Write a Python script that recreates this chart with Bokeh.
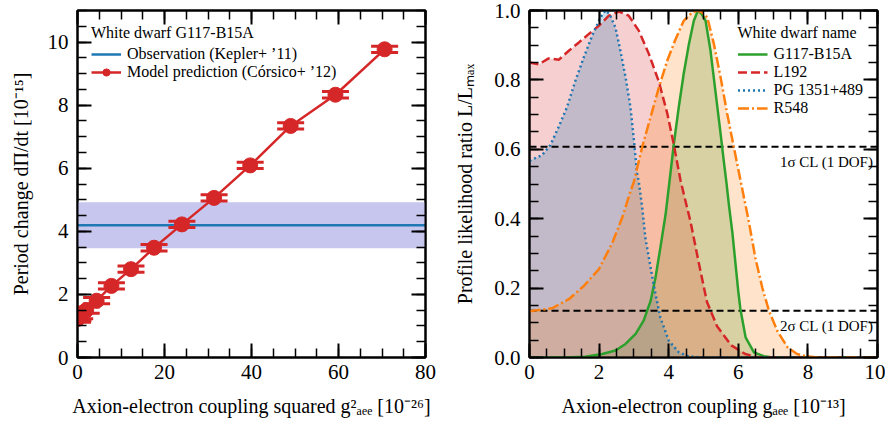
from bokeh.plotting import figure
from bokeh.models import (Range1d, LinearAxis, SingleIntervalTicker, Legend, LegendItem,
                          Label, BoxAnnotation, PrintfTickFormatter)
from bokeh.layouts import row
from bokeh.embed import file_html
from bokeh.resources import INLINE

FONT = "Liberation Serif"

# ---------------- Left panel data ----------------
g2_model = [0.0, 0.1, 0.5, 2.0, 4.4, 7.8, 12.3, 17.6, 24.0, 31.4, 39.7, 49.0, 59.3, 70.6]
pdot_model = [1.22, 1.27, 1.33, 1.50, 1.80, 2.27, 2.80, 3.48, 4.22, 5.06, 6.09, 7.34, 8.33, 9.77]
pdot_err = [0.10, 0.10, 0.10, 0.10, 0.10, 0.10, 0.10, 0.10, 0.10, 0.10, 0.10, 0.10, 0.10, 0.10]
obs_value = 4.19
obs_err = 0.73
left_xrange = (0, 80)
left_yrange = (0, 11)

# ---------------- Right panel data ----------------
g_g117 = [0, 1.0, 1.6, 2.09, 2.47, 2.76, 3.05, 3.28, 3.48, 3.62, 3.76, 3.91, 4.02, 4.15, 4.29,
          4.43, 4.58, 4.72, 4.84, 4.95, 5.06, 5.20, 5.34, 5.49, 5.58, 5.66, 5.73, 5.83, 5.92,
          6.00, 6.06, 6.21, 6.45, 6.73, 7.0, 10]
L_g117 = [0, 0, 0.002, 0.01, 0.02, 0.039, 0.068, 0.106, 0.163, 0.23, 0.316, 0.412, 0.505, 0.617,
          0.722, 0.817, 0.903, 0.97, 1.0, 0.99, 0.97, 0.885, 0.77, 0.646, 0.569, 0.503, 0.44,
          0.36, 0.27, 0.19, 0.14, 0.058, 0.015, 0.004, 0, 0]

g_l192 = [0, 0.27, 0.55, 0.84, 1.13, 1.42, 1.70, 1.99, 2.28, 2.57, 2.85, 3.14, 3.43, 3.72, 3.96,
          4.15, 4.34, 4.63, 4.87, 5.10, 5.39, 5.80, 6.20, 6.60, 10]
L_l192 = [0.85, 0.845, 0.862, 0.858, 0.884, 0.908, 0.932, 0.956, 0.985, 0.997, 0.985, 0.942,
          0.875, 0.794, 0.703, 0.612, 0.51, 0.39, 0.27, 0.16, 0.09, 0.035, 0.01, 0.0, 0.0]

g_pg = [0, 0.36, 0.60, 0.84, 1.08, 1.32, 1.56, 1.80, 2.04, 2.18, 2.30, 2.47, 2.61, 2.76, 2.90,
        3.00, 3.09, 3.14, 3.24, 3.33, 3.48, 3.62, 3.76, 4.00, 4.29, 4.58, 5.0, 10]
L_pg = [0.567, 0.583, 0.612, 0.665, 0.722, 0.798, 0.865, 0.927, 0.98, 1.0, 0.99, 0.951, 0.885,
        0.808, 0.722, 0.627, 0.531, 0.507, 0.431, 0.345, 0.259, 0.183, 0.115, 0.049, 0.015,
        0.003, 0, 0]

g_r548 = [0, 0.65, 1.13, 1.56, 1.99, 2.38, 2.66, 2.90, 3.0, 3.24, 3.48, 3.72, 3.96, 4.20, 4.43,
          4.67, 4.82, 4.95, 5.11, 5.30, 5.49, 5.68, 5.87, 6.06, 6.30, 6.49, 6.69, 6.88, 7.12,
          7.41, 7.69, 7.98, 8.3, 10]
L_r548 = [0.133, 0.142, 0.168, 0.206, 0.254, 0.33, 0.402, 0.478, 0.507, 0.607, 0.693, 0.779,
          0.856, 0.918, 0.97, 0.994, 1.0, 0.995, 0.98, 0.903, 0.808, 0.703, 0.607, 0.512, 0.393,
          0.287, 0.201, 0.135, 0.077, 0.03, 0.01, 0.003, 0, 0]

cl_levels = [0.607, 0.135]
cl_texts = ["1σ CL (1 DOF)", "2σ CL (1 DOF)"]
right_xrange = (0, 10)
right_yrange = (0, 1.0)

RED = "#d62728"
BLUE = "#1f77b4"
GREEN = "#2ca02c"
ORANGE = "#ff7f0e"


def style_axis(ax, labels=True):
    ax.axis_line_width = 2
    ax.axis_line_color = "black"
    ax.major_tick_in = 14
    ax.major_tick_out = 0
    ax.minor_tick_in = 9
    ax.minor_tick_out = 0
    ax.major_tick_line_width = 2
    ax.minor_tick_line_width = 1.5
    ax.major_tick_line_color = "black"
    ax.minor_tick_line_color = "black"
    ax.major_label_text_font = FONT
    ax.major_label_text_font_size = "21px"
    ax.major_label_text_color = "black"
    ax.axis_label_text_font = FONT
    ax.axis_label_text_font_size = "20px"
    ax.axis_label_text_font_style = "normal"
    ax.axis_label_text_color = "black"
    if not labels:
        ax.major_label_text_font_size = "1px"
        ax.major_label_text_color = None
        ax.major_label_standoff = 0


def make_fig(xr, yr, xint, yint, left_border, right_border, ylabel_standoff):
    p = figure(frame_width=348, frame_height=347, x_range=Range1d(*xr), y_range=Range1d(*yr),
               output_backend="svg", toolbar_location=None,
               min_border_left=left_border, min_border_right=right_border,
               min_border_top=10, min_border_bottom=67)
    p.xgrid.visible = False
    p.ygrid.visible = False
    p.outline_line_color = "black"
    p.outline_line_width = 2
    p.outline_line_alpha = 1
    bx = p.below[0]
    ly = p.left[0]
    bx.ticker = SingleIntervalTicker(interval=xint, num_minor_ticks=4)
    ly.ticker = SingleIntervalTicker(interval=yint, num_minor_ticks=4)
    top = LinearAxis(ticker=SingleIntervalTicker(interval=xint, num_minor_ticks=4))
    right = LinearAxis(ticker=SingleIntervalTicker(interval=yint, num_minor_ticks=4))
    p.add_layout(top, "above")
    p.add_layout(right, "right")
    style_axis(bx)
    style_axis(ly)
    style_axis(top, labels=False)
    style_axis(right, labels=False)
    bx.major_label_standoff = 7
    bx.axis_label_standoff = 13
    ly.major_label_standoff = 9
    ly.axis_label_standoff = ylabel_standoff
    return p, bx, ly


# ---------------- Left figure ----------------
p1, bx1, ly1 = make_fig(left_xrange, left_yrange, 20, 2, 77, 26, 13)
bx1.axis_label = "Axion-electron coupling squared g²ₐₑₑ [10⁻²⁶]"
ly1.axis_label = "Period change dΠ/dt [10⁻¹⁵]"

band = BoxAnnotation(bottom=obs_value - obs_err, top=obs_value + obs_err,
                     fill_color="#c6c6ee", fill_alpha=1.0, line_color=None, level="underlay")
p1.add_layout(band)
obs_r = p1.line(x=list(left_xrange), y=[obs_value, obs_value], line_color=BLUE, line_width=2.5)

lo = [v - e for v, e in zip(pdot_model, pdot_err)]
hi = [v + e for v, e in zip(pdot_model, pdot_err)]
mline = p1.line(x=g2_model, y=pdot_model, line_color=RED, line_width=2.5)
p1.segment(x0=g2_model, y0=lo, x1=g2_model, y1=hi, line_color=RED, line_width=2.5)
cap_lo = p1.scatter(x=g2_model, y=lo, marker="dash", size=27, line_color=RED, line_width=3)
cap_hi = p1.scatter(x=g2_model, y=hi, marker="dash", size=27, line_color=RED, line_width=3)
mpts = p1.scatter(x=g2_model, y=pdot_model, marker="circle", size=15, fill_color=RED,
                  line_color=RED)

leg1 = Legend(items=[LegendItem(label="Observation (Kepler+ ’11)", renderers=[obs_r]),
                     LegendItem(label="Model prediction (Córsico+ ’12)",
                                renderers=[mline, cap_hi, mpts])],
              location="top_left", title="White dwarf G117-B15A",
              border_line_color=None, background_fill_alpha=0,
              label_text_font=FONT, label_text_font_size="16px", label_text_color="black",
              title_text_font=FONT, title_text_font_size="16px", title_text_font_style="normal",
              title_text_color="black",
              glyph_width=30, glyph_height=18, label_height=18, spacing=0,
              padding=6, margin=14, label_standoff=6, title_standoff=3)
p1.add_layout(leg1)

# ---------------- Right figure ----------------
p2, bx2, ly2 = make_fig(right_xrange, right_yrange, 2, 0.2, 74, 8, 15)
ly2.formatter = PrintfTickFormatter(format="%.1f")
bx2.axis_label = "Axion-electron coupling gₐₑₑ [10⁻¹³]"
ly2.axis_label = "Profile likelihood ratio L/Lₘₐₓ"

curves = [
    ("G117-B15A", g_g117, L_g117, GREEN, "solid"),
    ("L192", g_l192, L_l192, RED, "9 4"),
    ("PG 1351+489", g_pg, L_pg, BLUE, "2 3"),
    ("R548", g_r548, L_r548, ORANGE, "11 3 2 3"),
]
fill_alphas = [0.24, 0.22, 0.24, 0.22]
for (name, gx, Ly, col, dash), fa in zip(curves, fill_alphas):
    p2.varea(x=gx, y1=[0] * len(gx), y2=Ly, fill_color=col, fill_alpha=fa)

for lev, txt in zip(cl_levels, cl_texts):
    p2.line(x=list(right_xrange), y=[lev, lev], line_color="black", line_width=2,
            line_dash="7 4")
    p2.add_layout(Label(x=right_xrange[1], y=lev, x_offset=-4, y_offset=-15, text=txt,
                        text_align="right", text_baseline="middle", text_font=FONT,
                        text_font_size="15px", text_color="black"))

items = []
for name, gx, Ly, col, dash in curves:
    r = p2.line(x=gx, y=Ly, line_color=col, line_width=2.5, line_dash=dash)
    items.append(LegendItem(label=name, renderers=[r]))

leg2 = Legend(items=items, location="top_right", title="White dwarf name",
              border_line_color=None, background_fill_alpha=0,
              label_text_font=FONT, label_text_font_size="16px", label_text_color="black",
              title_text_font=FONT, title_text_font_size="16px", title_text_font_style="normal",
              title_text_color="black",
              glyph_width=30, glyph_height=18, label_height=18, spacing=0,
              padding=6, margin=14, label_standoff=6, title_standoff=3)
p2.add_layout(leg2)

layout = row(p1, p2)
open("out.html", "w").write(file_html(layout, INLINE))
